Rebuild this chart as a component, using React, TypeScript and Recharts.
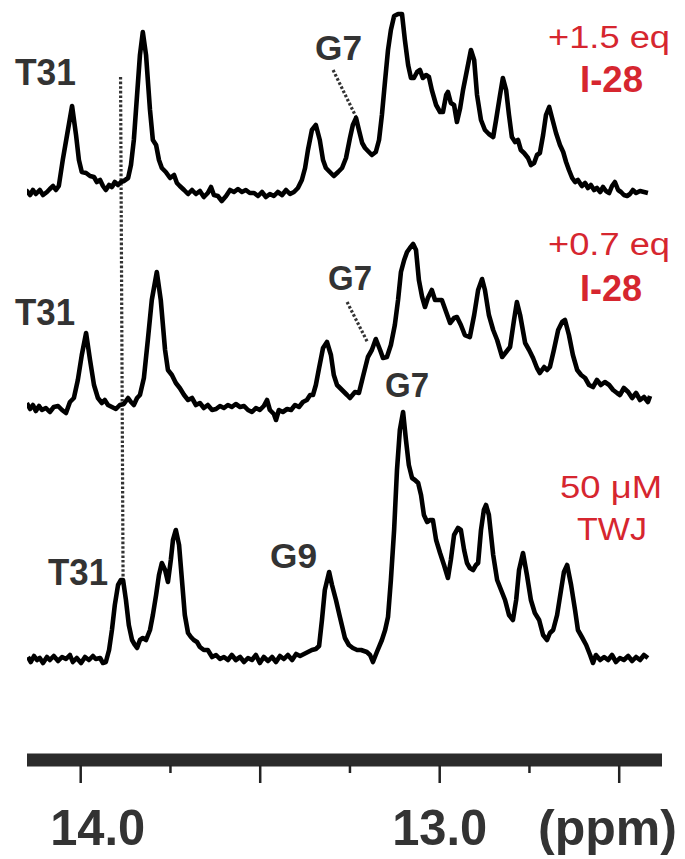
import { LineChart, Line, XAxis, YAxis, ReferenceLine } from "recharts";

// 1H imino spectra, [ppm, intensity a.u.]
const topTrace: [number, number][] = [
  [14.166, 2], [14.158, -4], [14.15, 1], [14.141, -3], [14.133, 2], [14.125, -2], [14.114, 2], [14.105, -3],
  [14.094, 0], [14.086, 3], [14.077, 6], [14.069, 2], [14.061, 6], [14.05, 32], [14.038, 57], [14.024, 86],
  [14.013, 57], [14.005, 32], [13.997, 20], [13.985, 19], [13.974, 16], [13.963, 15], [13.955, 10], [13.946, 12],
  [13.938, 6], [13.93, 2], [13.921, 7], [13.913, 5], [13.905, 10], [13.896, 7], [13.888, 10], [13.88, 11],
  [13.868, 14], [13.86, 27], [13.852, 52], [13.843, 97], [13.835, 137], [13.827, 160], [13.818, 137], [13.807, 82],
  [13.799, 52], [13.79, 47], [13.782, 32], [13.774, 24], [13.763, 20], [13.751, 14], [13.74, 17], [13.732, 9],
  [13.724, 6], [13.712, 2], [13.701, -2], [13.69, 2], [13.679, -2], [13.668, 1], [13.657, -5], [13.646, -1],
  [13.637, 5], [13.629, -3], [13.618, -4], [13.607, -9], [13.595, -4], [13.584, 2], [13.573, 0], [13.562, 3],
  [13.551, 0], [13.54, 2], [13.529, -1], [13.517, -1], [13.506, -4], [13.495, 0], [13.484, -5], [13.473, -2],
  [13.462, -4], [13.451, 0], [13.439, -3], [13.428, 2], [13.417, -2], [13.406, 0], [13.395, 4], [13.384, 12],
  [13.375, 24], [13.367, 42], [13.356, 62], [13.345, 67], [13.334, 52], [13.325, 32], [13.317, 24], [13.306, 20],
  [13.295, 16], [13.283, 20], [13.272, 24], [13.261, 34], [13.25, 54], [13.242, 67], [13.233, 74], [13.225, 62],
  [13.216, 49], [13.208, 44], [13.2, 41], [13.189, 37], [13.178, 40], [13.169, 52], [13.161, 77], [13.152, 112],
  [13.144, 142], [13.136, 162], [13.127, 176], [13.116, 178], [13.105, 178], [13.097, 152], [13.088, 127], [13.08, 114],
  [13.072, 114], [13.063, 120], [13.055, 122], [13.047, 114], [13.038, 117], [13.03, 115], [13.022, 102], [13.01, 87],
  [12.999, 80], [12.991, 80], [12.982, 97], [12.977, 100], [12.969, 89], [12.96, 87], [12.952, 70], [12.943, 84],
  [12.935, 102], [12.924, 122], [12.913, 142], [12.904, 132], [12.896, 97], [12.885, 72], [12.874, 62], [12.863, 58],
  [12.851, 55], [12.843, 72], [12.832, 97], [12.824, 114], [12.815, 102], [12.807, 77], [12.799, 55], [12.79, 50],
  [12.782, 52], [12.774, 42], [12.765, 39], [12.754, 34], [12.746, 27], [12.737, 29], [12.729, 37], [12.721, 39],
  [12.712, 57], [12.704, 77], [12.695, 85], [12.687, 74], [12.676, 59], [12.665, 47], [12.656, 40], [12.648, 30],
  [12.64, 22], [12.631, 14], [12.623, 10], [12.615, 12], [12.604, 6], [12.595, 9], [12.587, 4], [12.579, 7],
  [12.57, 2], [12.562, 4], [12.553, 0], [12.545, 5], [12.537, 1], [12.528, -1], [12.52, 6], [12.512, 10],
  [12.503, 2], [12.495, 0], [12.487, -3], [12.478, -4], [12.47, -2], [12.462, 2], [12.453, -1], [12.442, 1],
  [12.431, 0], [12.42, -1],
];

const midTrace: [number, number][] = [
  [14.15, 5], [14.141, -1], [14.133, 3], [14.125, -3], [14.116, 2], [14.108, -2], [14.097, 0], [14.086, -4],
  [14.075, 1], [14.063, 2], [14.052, -2], [14.041, -5], [14.03, 6], [14.019, 10], [14.008, 28], [13.997, 53],
  [13.985, 75], [13.974, 48], [13.963, 23], [13.952, 10], [13.941, 5], [13.933, 8], [13.924, 3], [13.913, 1],
  [13.902, -1], [13.891, 3], [13.88, 4], [13.868, 10], [13.86, 6], [13.852, 3], [13.843, 10], [13.835, 13],
  [13.824, 30], [13.813, 68], [13.802, 108], [13.788, 136], [13.777, 108], [13.765, 58], [13.757, 38], [13.746, 33],
  [13.735, 25], [13.724, 20], [13.712, 13], [13.701, 8], [13.69, 10], [13.679, 3], [13.668, 5], [13.657, 0],
  [13.646, 3], [13.634, -2], [13.623, -1], [13.612, 2], [13.601, 0], [13.59, 3], [13.579, 1], [13.568, 4],
  [13.556, 1], [13.545, 2], [13.534, -2], [13.523, -4], [13.512, 0], [13.501, -2], [13.49, 2], [13.481, 8],
  [13.473, -2], [13.462, -6], [13.456, -12], [13.448, -2], [13.437, -4], [13.425, -1], [13.414, -2], [13.403, 3],
  [13.392, 1], [13.381, 6], [13.37, 8], [13.361, 13], [13.353, 13], [13.345, 23], [13.336, 40], [13.325, 60],
  [13.314, 66], [13.303, 53], [13.295, 33], [13.286, 23], [13.272, 18], [13.258, 13], [13.25, 10], [13.236, 16],
  [13.225, 15], [13.214, 31], [13.2, 51], [13.189, 58], [13.178, 69], [13.166, 58], [13.158, 50], [13.147, 51],
  [13.136, 63], [13.125, 83], [13.116, 108], [13.108, 136], [13.099, 148], [13.091, 156], [13.083, 160], [13.074, 164],
  [13.066, 158], [13.058, 128], [13.049, 111], [13.041, 101], [13.033, 110], [13.022, 118], [13.013, 108], [13.005, 108],
  [12.994, 108], [12.982, 96], [12.971, 85], [12.96, 90], [12.952, 91], [12.941, 83], [12.93, 73], [12.916, 71],
  [12.904, 93], [12.893, 118], [12.882, 129], [12.874, 118], [12.863, 93], [12.851, 78], [12.84, 68], [12.826, 51],
  [12.815, 56], [12.804, 61], [12.793, 88], [12.785, 106], [12.776, 93], [12.762, 65], [12.751, 58], [12.74, 50],
  [12.729, 40], [12.721, 35], [12.709, 41], [12.701, 38], [12.693, 41], [12.682, 58], [12.67, 78], [12.659, 86],
  [12.651, 88], [12.64, 73], [12.629, 53], [12.617, 38], [12.606, 33], [12.595, 30], [12.584, 23], [12.573, 21],
  [12.562, 28], [12.551, 23], [12.54, 26], [12.528, 23], [12.517, 18], [12.506, 15], [12.498, 13], [12.487, 20],
  [12.475, 16], [12.464, 10], [12.453, 15], [12.442, 8], [12.431, 11], [12.42, 6], [12.414, 12],
];

const botTrace: [number, number][] = [
  [14.147, 3], [14.139, -2], [14.13, 4], [14.122, 0], [14.114, 2], [14.105, -3], [14.094, 3], [14.086, 0],
  [14.075, 4], [14.063, -1], [14.052, 3], [14.041, 1], [14.03, 5], [14.022, -2], [14.011, 2], [13.999, -3],
  [13.988, 3], [13.977, 0], [13.966, 4], [13.958, 1], [13.946, 2], [13.938, -3], [13.93, -2], [13.921, 10],
  [13.913, 30], [13.905, 55], [13.896, 75], [13.888, 80], [13.882, 80], [13.874, 60], [13.866, 35], [13.857, 20],
  [13.849, 15], [13.843, 12], [13.835, 20], [13.827, 22], [13.818, 20], [13.807, 30], [13.799, 45], [13.79, 65],
  [13.782, 85], [13.774, 97], [13.765, 90], [13.757, 78], [13.749, 100], [13.743, 120], [13.735, 130], [13.726, 115],
  [13.718, 80], [13.71, 45], [13.701, 27], [13.693, 23], [13.685, 20], [13.676, 18], [13.668, 13], [13.657, 10],
  [13.646, 10], [13.634, 3], [13.623, 5], [13.612, 1], [13.601, 3], [13.59, 0], [13.579, 5], [13.568, 0],
  [13.556, 3], [13.545, -2], [13.534, 2], [13.523, 0], [13.512, 5], [13.501, -3], [13.49, 3], [13.478, -1],
  [13.467, 3], [13.456, -2], [13.445, 4], [13.434, 1], [13.423, 5], [13.411, 0], [13.4, 6], [13.389, 4],
  [13.378, 6], [13.367, 8], [13.356, 10], [13.345, 11], [13.336, 14], [13.328, 40], [13.32, 70], [13.308, 88],
  [13.3, 75], [13.289, 60], [13.278, 43], [13.264, 22], [13.253, 15], [13.242, 12], [13.23, 10], [13.219, 10],
  [13.211, 9], [13.203, 8], [13.194, 5], [13.186, -2], [13.175, 8], [13.161, 20], [13.152, 30], [13.144, 43],
  [13.136, 80], [13.127, 130], [13.119, 190], [13.111, 230], [13.102, 248], [13.094, 220], [13.086, 195], [13.077, 182],
  [13.069, 180], [13.06, 177], [13.052, 165], [13.044, 145], [13.035, 138], [13.027, 140], [13.019, 140], [13.01, 120],
  [12.999, 107], [12.988, 95], [12.977, 82], [12.969, 100], [12.96, 125], [12.949, 132], [12.941, 130], [12.932, 110],
  [12.924, 97], [12.916, 92], [12.907, 90], [12.899, 95], [12.893, 97], [12.885, 130], [12.877, 150], [12.871, 155],
  [12.863, 145], [12.851, 105], [12.84, 80], [12.829, 70], [12.818, 60], [12.807, 45], [12.796, 40], [12.787, 60],
  [12.779, 90], [12.768, 107], [12.757, 85], [12.746, 60], [12.735, 47], [12.723, 40], [12.712, 25], [12.701, 20],
  [12.693, 27], [12.684, 30], [12.673, 45], [12.662, 70], [12.654, 88], [12.645, 95], [12.634, 75], [12.623, 50],
  [12.615, 30], [12.604, 23], [12.592, 15], [12.581, 5], [12.573, -3], [12.565, 5], [12.553, 0], [12.542, 3],
  [12.531, 0], [12.52, 5], [12.509, -2], [12.498, 2], [12.487, 0], [12.475, 4], [12.464, -1], [12.453, 3],
  [12.442, 0], [12.431, 5], [12.42, 2],
];

// vertical stacking of the three spectra
const TOP_OFFSET = 568;
const MID_OFFSET = 352;
const BOT_OFFSET = 100;

const PPM_DOMAIN: [number, number] = [12.3808, 14.1496];
const ppmTicks = [14.0, 13.75, 13.5, 13.25, 13.0, 12.75, 12.5];
const majorTicks = [14.0, 13.5, 13.0, 12.5];
const tickLabels: Record<string, string> = { "14": "14.0", "13": "13.0" };

const toRows = (trace: [number, number][], off: number) =>
  trace.map(([ppm, v]) => ({ ppm, v: v + off }));

const RED = "#d6262f";
const GREY = "#333333";
const FONT = "'Liberation Sans', Arial, sans-serif";

function PpmTick(props: any) {
  const { x, y, payload } = props;
  const v = payload.value as number;
  const major = majorTicks.includes(v);
  const label = tickLabels[String(v)];
  return (
    <g>
      <line x1={x} x2={x} y1={y + 5} y2={y + (major ? 23 : 13)} stroke="#222" strokeWidth={2.5} />
      {label && (
        <text
          x={x + (v === 14 ? 17 : 0)}
          y={y + 85}
          textAnchor="middle"
          fontFamily={FONT}
          fontWeight="bold"
          fontSize={50}
          fill={GREY}
          textLength={95}
          lengthAdjust="spacingAndGlyphs"
        >
          {label}
        </text>
      )}
    </g>
  );
}

const dotted = { stroke: GREY, strokeWidth: 3.2, strokeDasharray: "2.6 2" };
const lineStyle = { type: "linear" as const, dot: false, stroke: "#000", strokeWidth: 4.6, strokeLinejoin: "round" as const, isAnimationActive: false };

export default function App() {
  const lbl = { fontFamily: FONT, fontWeight: "bold" as const, fill: GREY };
  const red = { fontFamily: FONT, fill: RED };
  return (
    <div style={{ position: "absolute", left: 0, top: 0, width: 685, height: 859, background: "#fff" }}>
      <LineChart width={685} height={859} margin={{ top: 0, right: 23, bottom: 0, left: 27 }}>
        <XAxis
          type="number"
          dataKey="ppm"
          domain={PPM_DOMAIN}
          allowDataOverflow
          reversed
          ticks={ppmTicks}
          interval={0}
          height={99}
          tickSize={0}
          tickMargin={0}
          tickLine={false}
          axisLine={{ stroke: "#2b2b2b", strokeWidth: 13 }}
          tick={<PpmTick />}
        />
        <YAxis type="number" domain={[0, 760]} hide allowDataOverflow />
        <ReferenceLine segment={[{ x: 13.889, y: 683 }, { x: 13.882, y: 182 }]} {...dotted} />
        <ReferenceLine segment={[{ x: 13.297, y: 690 }, { x: 13.233, y: 643 }]} {...dotted} />
        <ReferenceLine segment={[{ x: 13.258, y: 458 }, { x: 13.2, y: 417 }]} {...dotted} />
        <Line data={toRows(topTrace, TOP_OFFSET)} dataKey="v" {...lineStyle} />
        <Line data={toRows(midTrace, MID_OFFSET)} dataKey="v" {...lineStyle} />
        <Line data={toRows(botTrace, BOT_OFFSET)} dataKey="v" {...lineStyle} />
      </LineChart>
      <svg width={685} height={859} style={{ position: "absolute", left: 0, top: 0, pointerEvents: "none" }}>
        <text x={15} y={85} fontSize={37} textLength={61} lengthAdjust="spacingAndGlyphs" {...lbl}>T31</text>
        <text x={15} y={325} fontSize={37} textLength={60} lengthAdjust="spacingAndGlyphs" {...lbl}>T31</text>
        <text x={48} y={585} fontSize={37} textLength={60} lengthAdjust="spacingAndGlyphs" {...lbl}>T31</text>
        <text x={315} y={60} fontSize={35} textLength={47} lengthAdjust="spacingAndGlyphs" {...lbl}>G7</text>
        <text x={328} y={290} fontSize={35} textLength={44} lengthAdjust="spacingAndGlyphs" {...lbl}>G7</text>
        <text x={385} y={397} fontSize={35} textLength={44} lengthAdjust="spacingAndGlyphs" {...lbl}>G7</text>
        <text x={270} y={568} fontSize={35} textLength={47} lengthAdjust="spacingAndGlyphs" {...lbl}>G9</text>

        <text x={548} y={48} fontSize={31} textLength={122} lengthAdjust="spacingAndGlyphs" {...red}>+1.5 eq</text>
        <text x={580} y={92} fontSize={37} fontWeight="bold" textLength={63} lengthAdjust="spacingAndGlyphs" {...red}>I-28</text>
        <text x={548} y={255} fontSize={31} textLength={122} lengthAdjust="spacingAndGlyphs" {...red}>+0.7 eq</text>
        <text x={580} y={301} fontSize={37} fontWeight="bold" textLength={62} lengthAdjust="spacingAndGlyphs" {...red}>I-28</text>
        <text x={560} y={498} fontSize={32} textLength={102} lengthAdjust="spacingAndGlyphs" {...red}>50 μM</text>
        <text x={577} y={540} fontSize={32} textLength={70} lengthAdjust="spacingAndGlyphs" {...red}>TWJ</text>

        <text x={538} y={845} fontSize={50} fontWeight="bold" fontFamily={FONT} fill={GREY} textLength={139} lengthAdjust="spacingAndGlyphs">(ppm)</text>
      </svg>
    </div>
  );
}
